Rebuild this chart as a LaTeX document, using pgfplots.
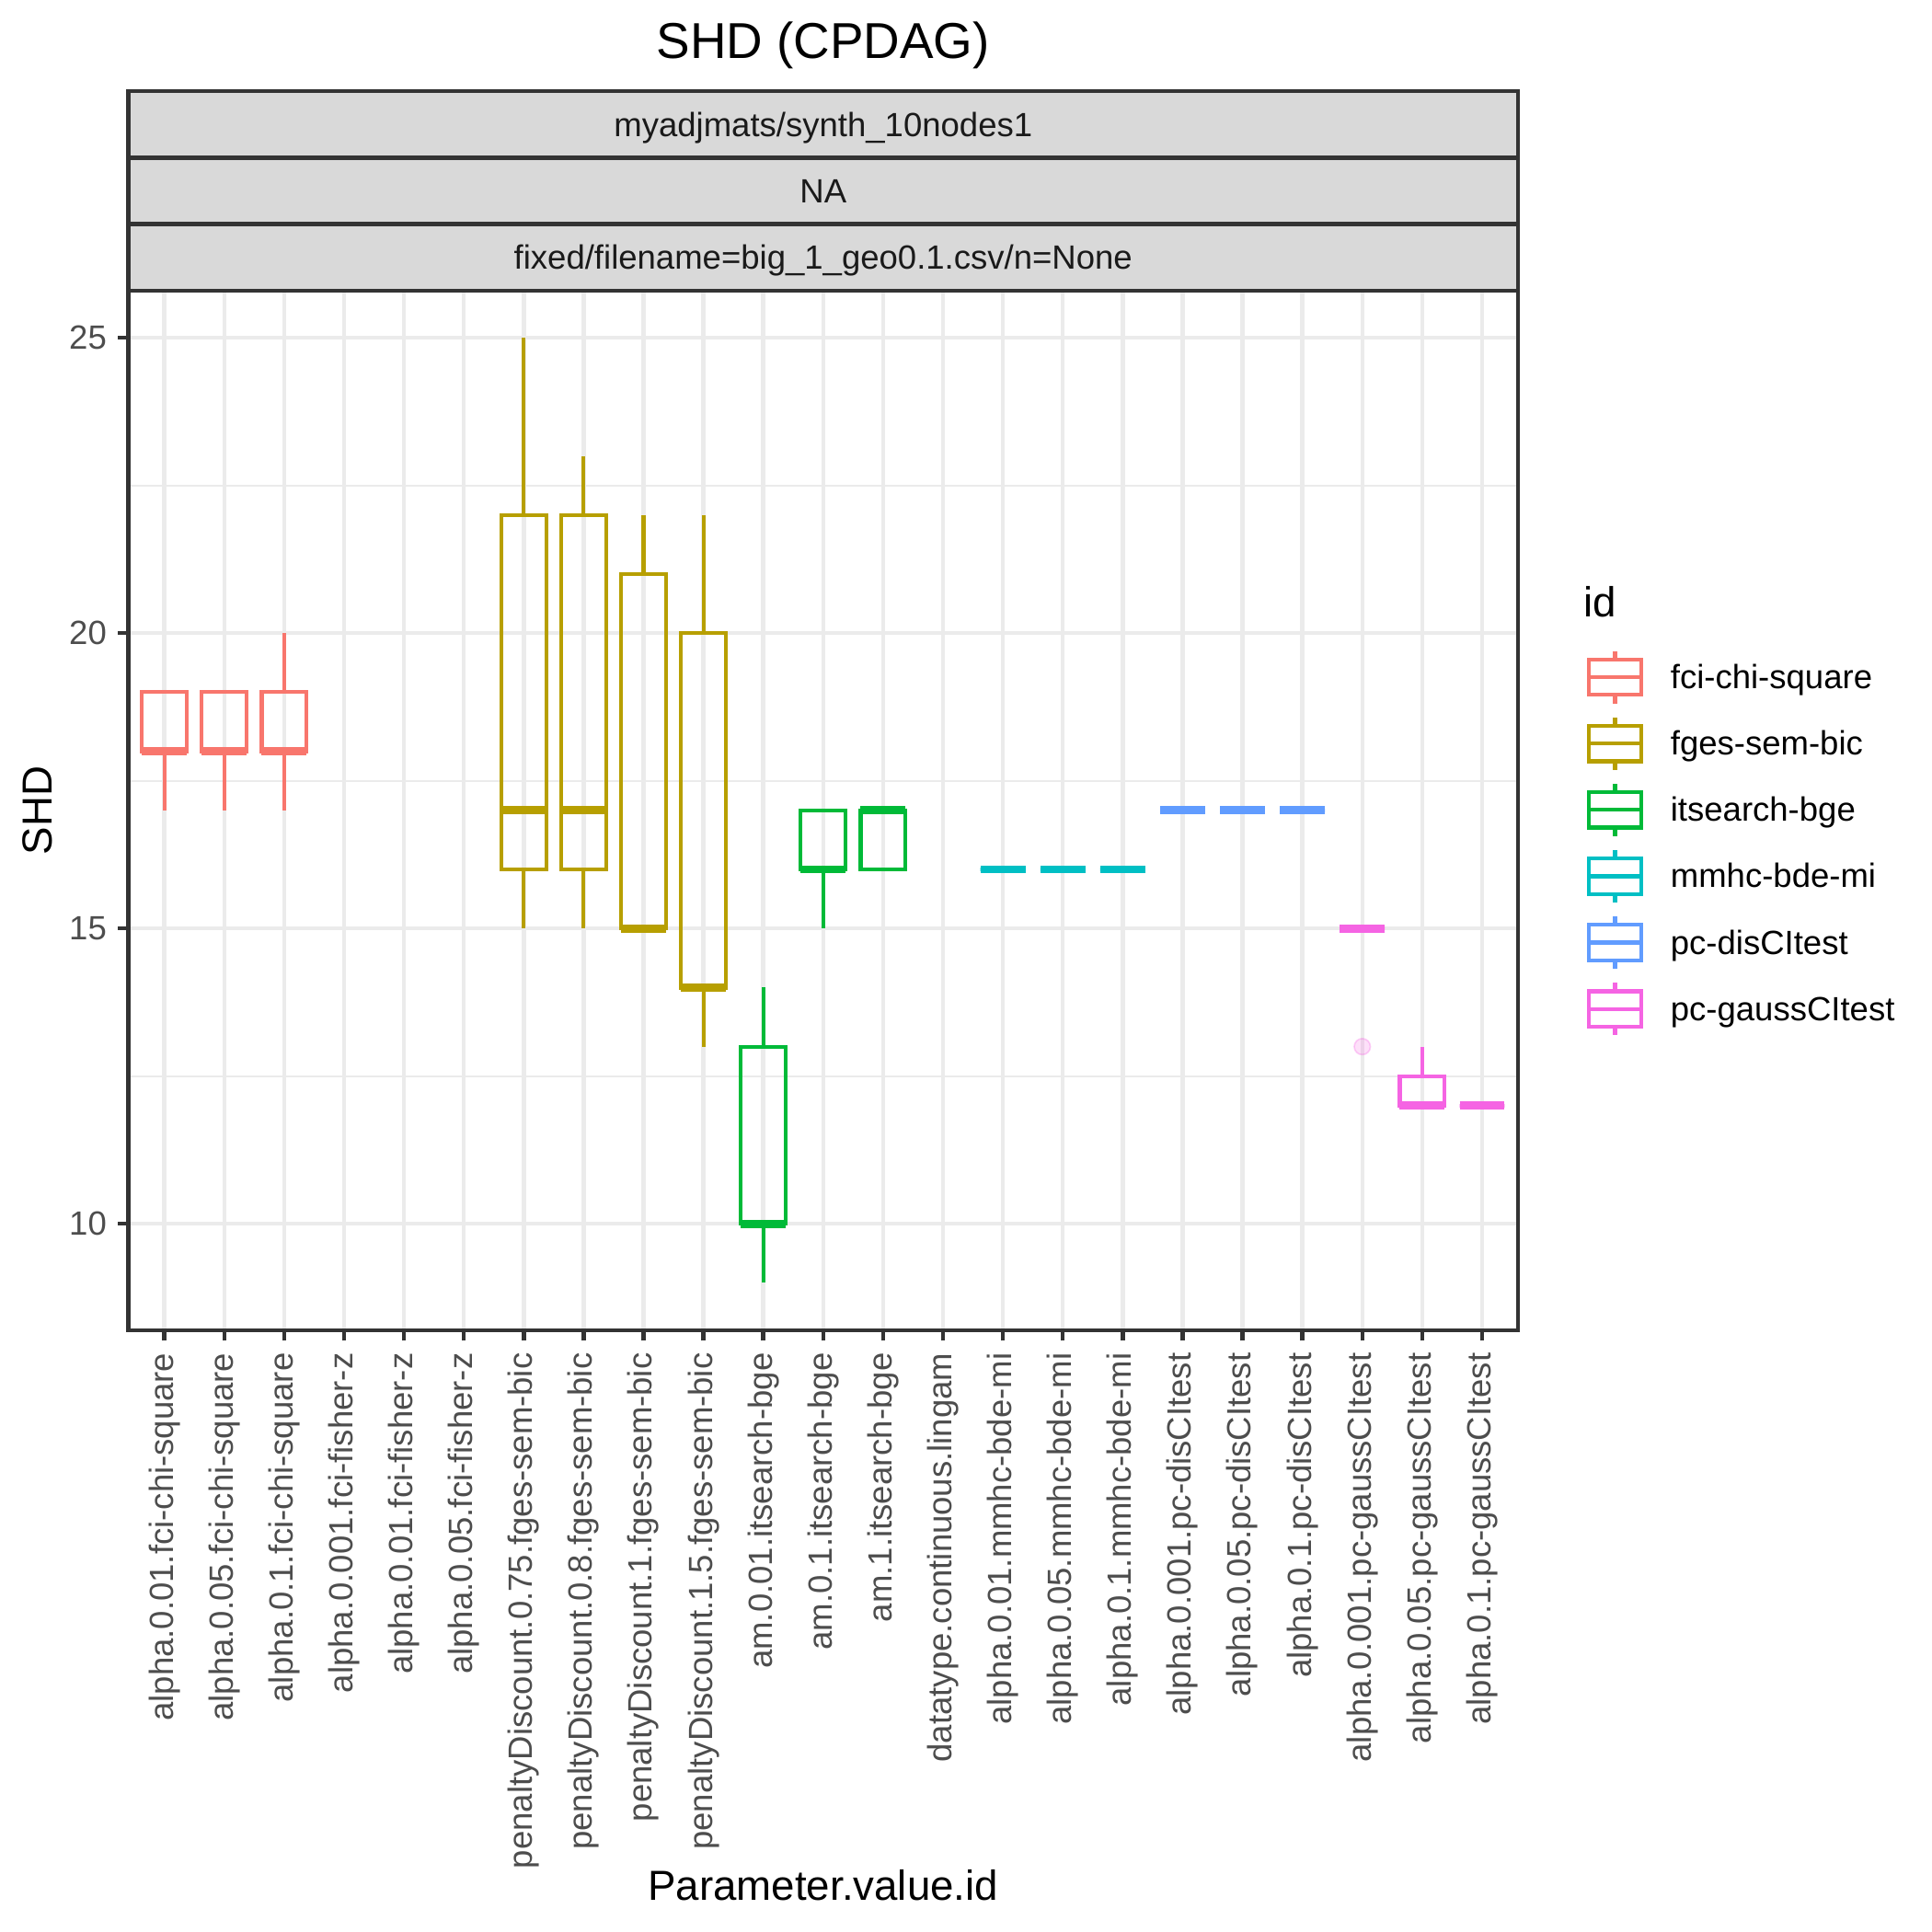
\documentclass[border=0pt]{standalone}
\usepackage{fontspec}
\setmainfont{Liberation Sans}
\usepackage{pgfplots}
\pgfplotsset{compat=1.18}
\usepgfplotslibrary{statistics}

% ggplot hue palette, 6 groups
\definecolor{cfci}{HTML}{F8766D}
\definecolor{cfges}{HTML}{B79F00}
\definecolor{cits}{HTML}{00BA38}
\definecolor{cmmhc}{HTML}{00BFC4}
\definecolor{cpcd}{HTML}{619CFF}
\definecolor{cpcg}{HTML}{F564E3}
\definecolor{grey92}{HTML}{EBEBEB}
\definecolor{grey85}{HTML}{D9D9D9}
\definecolor{grey30}{HTML}{4D4D4D}
\definecolor{grey20}{HTML}{333333}
\definecolor{grey10}{HTML}{1A1A1A}

\newcommand{\fsmall}{\fontsize{8.8}{10}\selectfont}
\newcommand{\fmid}{\fontsize{11}{13}\selectfont}
\newcommand{\fbig}{\fontsize{13.2}{15}\selectfont}

\pgfplotsset{
  bx/.style={solid, line width=1bp,
    boxplot/draw direction=y,
    boxplot/box extend=0.75, boxplot/whisker extend=0,
    boxplot/every median/.style={line width=2.1bp}},
}

\begin{document}
\begin{tikzpicture}
\useasboundingbox (0,0) rectangle (504bp,504bp);

\begin{axis}[
  at={(33.5bp,157bp)}, anchor=south west,
  scale only axis, width=362.5bp, height=271.2bp,
  xmin=0.4, xmax=23.6, ymin=8.2, ymax=25.8,
  xtick={1,...,23},
  xticklabels={alpha.0.01.fci-chi-square, alpha.0.05.fci-chi-square, alpha.0.1.fci-chi-square,
    alpha.0.001.fci-fisher-z, alpha.0.01.fci-fisher-z, alpha.0.05.fci-fisher-z,
    penaltyDiscount.0.75.fges-sem-bic, penaltyDiscount.0.8.fges-sem-bic,
    penaltyDiscount.1.fges-sem-bic, penaltyDiscount.1.5.fges-sem-bic,
    am.0.01.itsearch-bge, am.0.1.itsearch-bge, am.1.itsearch-bge,
    datatype.continuous.lingam,
    alpha.0.01.mmhc-bde-mi, alpha.0.05.mmhc-bde-mi, alpha.0.1.mmhc-bde-mi,
    alpha.0.001.pc-disCItest, alpha.0.05.pc-disCItest, alpha.0.1.pc-disCItest,
    alpha.0.001.pc-gaussCItest, alpha.0.05.pc-gaussCItest, alpha.0.1.pc-gaussCItest},
  ytick={10,15,20,25},
  minor ytick={12.5,17.5,22.5},
  grid=both,
  major grid style={grey92, line width=1.07bp},
  minor grid style={grey92, line width=0.53bp},
  axis line style={grey20, line width=1.07bp},
  tick style={grey20, line width=1.07bp},
  tick align=outside, tick pos=left,
  major tick length=2.75bp, minor tick length=0pt,
  /pgf/number format/assume math mode=true,
  ticklabel style={font=\fsmall, text=grey30, inner sep=0pt},
  xticklabel style={rotate=90, anchor=east},
  yticklabel style={anchor=east},
  xticklabel shift=3bp, yticklabel shift=2.75bp,
]
% fci-chi-square
\addplot[bx, cfci, boxplot prepared={draw position=1, lower whisker=17, lower quartile=18, median=18, upper quartile=19, upper whisker=19}] coordinates {};
\addplot[bx, cfci, boxplot prepared={draw position=2, lower whisker=17, lower quartile=18, median=18, upper quartile=19, upper whisker=19}] coordinates {};
\addplot[bx, cfci, boxplot prepared={draw position=3, lower whisker=17, lower quartile=18, median=18, upper quartile=19, upper whisker=20}] coordinates {};
% fges-sem-bic
\addplot[bx, cfges, boxplot prepared={draw position=7, lower whisker=15, lower quartile=16, median=17, upper quartile=22, upper whisker=25}] coordinates {};
\addplot[bx, cfges, boxplot prepared={draw position=8, lower whisker=15, lower quartile=16, median=17, upper quartile=22, upper whisker=23}] coordinates {};
\addplot[bx, cfges, boxplot prepared={draw position=9, lower whisker=15, lower quartile=15, median=15, upper quartile=21, upper whisker=22}] coordinates {};
\addplot[bx, cfges, boxplot prepared={draw position=10, lower whisker=13, lower quartile=14, median=14, upper quartile=20, upper whisker=22}] coordinates {};
% itsearch-bge
\addplot[bx, cits, boxplot prepared={draw position=11, lower whisker=9, lower quartile=10, median=10, upper quartile=13, upper whisker=14}] coordinates {};
\addplot[bx, cits, boxplot prepared={draw position=12, lower whisker=15, lower quartile=16, median=16, upper quartile=17, upper whisker=17}] coordinates {};
\addplot[bx, cits, boxplot prepared={draw position=13, lower whisker=16, lower quartile=16, median=17, upper quartile=17, upper whisker=17}] coordinates {};
% mmhc-bde-mi
\addplot[bx, cmmhc, boxplot prepared={draw position=15, lower whisker=16, lower quartile=16, median=16, upper quartile=16, upper whisker=16}] coordinates {};
\addplot[bx, cmmhc, boxplot prepared={draw position=16, lower whisker=16, lower quartile=16, median=16, upper quartile=16, upper whisker=16}] coordinates {};
\addplot[bx, cmmhc, boxplot prepared={draw position=17, lower whisker=16, lower quartile=16, median=16, upper quartile=16, upper whisker=16}] coordinates {};
% pc-disCItest
\addplot[bx, cpcd, boxplot prepared={draw position=18, lower whisker=17, lower quartile=17, median=17, upper quartile=17, upper whisker=17}] coordinates {};
\addplot[bx, cpcd, boxplot prepared={draw position=19, lower whisker=17, lower quartile=17, median=17, upper quartile=17, upper whisker=17}] coordinates {};
\addplot[bx, cpcd, boxplot prepared={draw position=20, lower whisker=17, lower quartile=17, median=17, upper quartile=17, upper whisker=17}] coordinates {};
% pc-gaussCItest
\addplot[bx, cpcg, boxplot prepared={draw position=21, lower whisker=15, lower quartile=15, median=15, upper quartile=15, upper whisker=15}] coordinates {};
\addplot[only marks, mark=*, mark size=2.1bp, mark options={draw=cpcg, draw opacity=0.3, fill=cpcg, fill opacity=0.2}] coordinates {(21,13)};
\addplot[bx, cpcg, boxplot prepared={draw position=22, lower whisker=12, lower quartile=12, median=12, upper quartile=12.5, upper whisker=13}] coordinates {};
\addplot[bx, cpcg, boxplot prepared={draw position=23, lower whisker=12, lower quartile=12, median=12, upper quartile=12, upper whisker=12}] coordinates {};
\end{axis}

% facet strips
\filldraw[fill=grey85, draw=grey20, line width=1.07bp] (33.5bp,462.8bp) rectangle (396bp,480.2bp);
\filldraw[fill=grey85, draw=grey20, line width=1.07bp] (33.5bp,445.5bp) rectangle (396bp,462.8bp);
\filldraw[fill=grey85, draw=grey20, line width=1.07bp] (33.5bp,428.2bp) rectangle (396bp,445.5bp);
\node[anchor=base, font=\fsmall, text=grey10, inner sep=0pt] at (214.75bp,468.35bp) {myadjmats/synth\_10nodes1};
\node[anchor=base, font=\fsmall, text=grey10, inner sep=0pt] at (214.75bp,451.0bp) {NA};
\node[anchor=base, font=\fsmall, text=grey10, inner sep=0pt] at (214.75bp,433.7bp) {fixed/filename=big\_1\_geo0.1.csv/n=None};

% titles
\node[anchor=base, font=\fbig, inner sep=0pt] at (214.75bp,488.7bp) {SHD (CPDAG)};
\node[anchor=base, font=\fmid, inner sep=0pt] at (214.75bp,8.2bp) {Parameter.value.id};
\node[anchor=base, rotate=90, font=\fmid, inner sep=0pt] at (13.5bp,292.6bp) {SHD};

% legend
\node[anchor=base west, font=\fmid, inner sep=0pt] at (413bp,343bp) {id};
\foreach \c/\name [count=\k from 0] in {cfci/fci-chi-square, cfges/fges-sem-bic, cits/itsearch-bge,
    cmmhc/mmhc-bde-mi, cpcd/pc-disCItest, cpcg/pc-gaussCItest} {
  \pgfmathsetmacro{\yc}{327.3-17.3*\k}
  \draw[\c, line width=1bp] (414.4bp,\yc bp-4.6bp) rectangle (428.2bp,\yc bp+4.6bp);
  \draw[\c, line width=1bp] (414.4bp,\yc bp) -- (428.2bp,\yc bp);
  \draw[\c, line width=1bp] (421.3bp,\yc bp+4.6bp) -- (421.3bp,\yc bp+6.8bp);
  \draw[\c, line width=1bp] (421.3bp,\yc bp-4.6bp) -- (421.3bp,\yc bp-6.8bp);
  \node[anchor=base west, font=\fsmall, inner sep=0pt] at (435.6bp,\yc bp-3bp) {\name};
}
\end{tikzpicture}
\end{document}
